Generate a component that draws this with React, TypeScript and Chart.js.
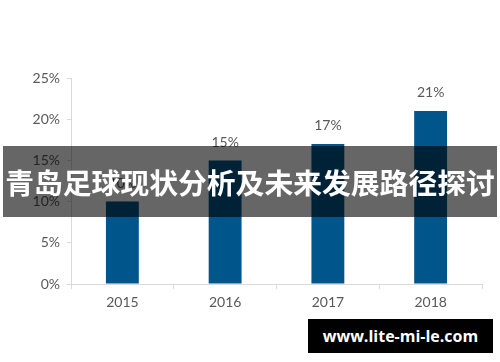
import React, { useEffect, useRef } from "react";
import { Chart, registerables } from "chart.js";

Chart.register(...registerables);

const categories = ["2015", "2016", "2017", "2018"];
const values = [10, 15, 17, 21];
const yTicks = [0, 5, 10, 15, 20, 25];
const bannerTitle = "青岛足球现状分析及未来发展路径探讨";
const watermark = "www.lite-mi-le.com";

const valueLabels = {
  id: "valueLabels",
  afterDatasetsDraw(chart: any) {
    const ctx = chart.ctx;
    const meta = chart.getDatasetMeta(0);
    ctx.save();
    ctx.fillStyle = "#595959";
    ctx.font = "14px Lato";
    ctx.textAlign = "center";
    ctx.textBaseline = "middle";
    meta.data.forEach((bar: any, i: number) => {
      ctx.fillText(values[i] + "%", bar.x, bar.y - 18);
    });
    ctx.restore();
  },
};

export default function App() {
  const ref = useRef<HTMLCanvasElement>(null);
  useEffect(() => {
    const chart = new Chart(ref.current!, {
      type: "bar",
      data: {
        labels: categories,
        datasets: [
          {
            data: values,
            backgroundColor: "#00558a",
            categoryPercentage: 1,
            barPercentage: 0.32,
          },
        ],
      },
      options: {
        animation: false,
        responsive: false,
        layout: { padding: { top: 78, right: 18, left: 0, bottom: 0 } },
        plugins: { legend: { display: false }, tooltip: { enabled: false } },
        scales: {
          x: {
            grid: {
              drawOnChartArea: false,
              drawTicks: true,
              tickLength: 5,
              color: "#d9d9d9",
              offset: true,
            },
            border: { color: "#d9d9d9" },
            ticks: { color: "#595959", font: { family: "Lato", size: 14 }, padding: 5 },
            afterFit(scale: any) {
              scale.height = 78;
            },
          },
          y: {
            min: 0,
            max: 25,
            afterBuildTicks(scale: any) {
              scale.ticks = yTicks.map((v) => ({ value: v }));
            },
            grid: { drawOnChartArea: false, drawTicks: true, tickLength: 4, color: "#d9d9d9" },
            border: { color: "#d9d9d9" },
            ticks: {
              color: "#595959",
              font: { family: "Lato", size: 14 },
              padding: 7,
              callback: (v: any) => v + "%",
            },
            afterFit(scale: any) {
              scale.width = 71;
            },
          },
        },
      },
      plugins: [valueLabels],
    });
    return () => chart.destroy();
  }, []);

  return (
    <div style={{ position: "fixed", left: 0, top: 0, width: 500, height: 362, background: "#fff", overflow: "hidden" }}>
      <canvas ref={ref} width={500} height={362} style={{ position: "absolute", left: 0, top: 0 }} />
      <div
        style={{
          position: "absolute",
          left: 3,
          top: 146,
          width: 494,
          height: 71,
          background: "rgba(0,0,0,0.6)",
          color: "#fff",
          fontFamily: "'Noto Sans CJK SC', sans-serif",
          fontWeight: 700,
          fontSize: 28.8,
          lineHeight: "71px",
          textAlign: "center",
          whiteSpace: "nowrap",
        }}
      >
        {bannerTitle}
      </div>
      <div
        style={{
          position: "absolute",
          left: 308,
          top: 319,
          width: 185,
          height: 34,
          background: "#000",
          color: "#fff",
          fontFamily: "'Open Sans', sans-serif",
          fontWeight: 700,
          fontSize: 16,
          lineHeight: "34px",
          textAlign: "center",
          whiteSpace: "nowrap",
        }}
      >
        {watermark}
      </div>
    </div>
  );
}
